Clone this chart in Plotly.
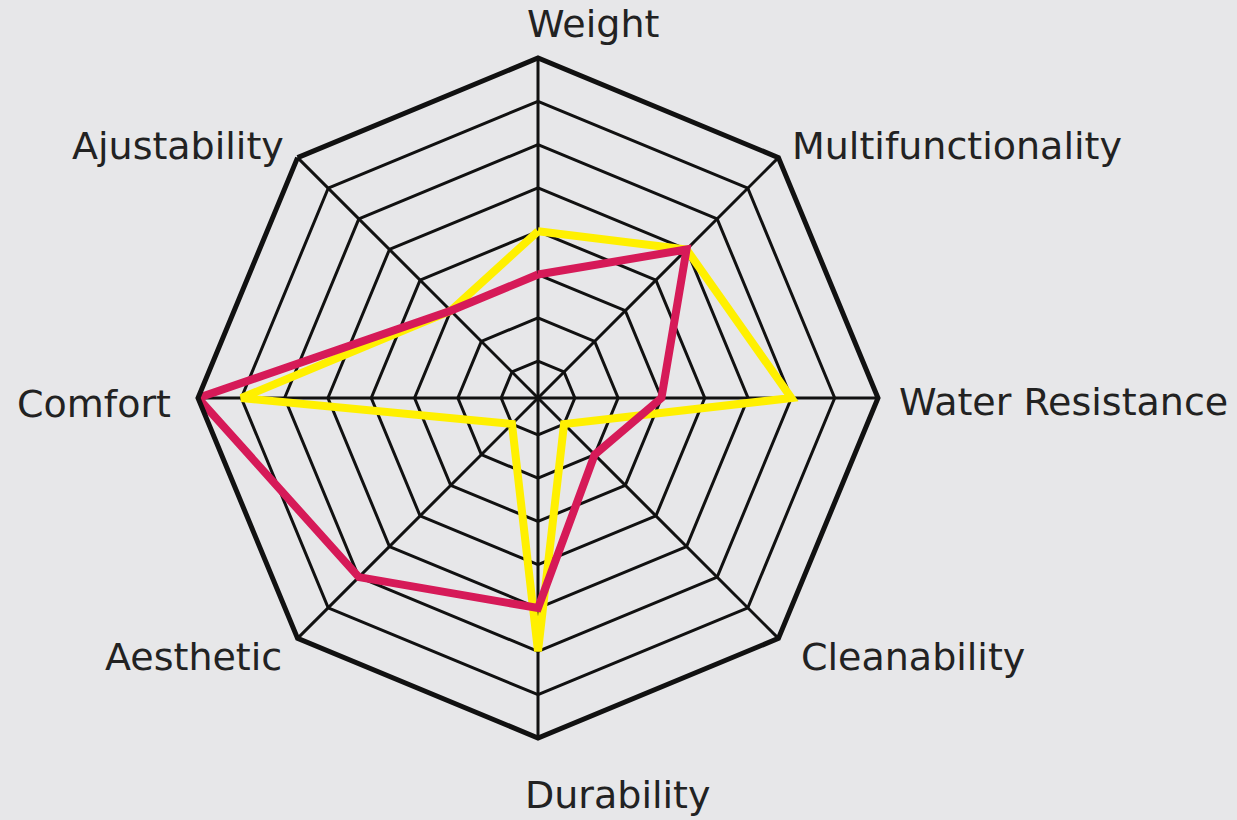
import plotly.graph_objects as go

categories = ["Weight", "Multifunctionality", "Water Resistance", "Cleanability",
              "Durability", "Aesthetic", "Comfort", "Ajustability"]
yellow_values = [4, 5, 6, 1, 6, 1, 7, 3]
red_values = [3, 5, 3, 2, 5, 6, 8, 3]

W, H = 1237, 820
cx, cy, R = 538, 398, 340
BG = "#E7E7E9"

fig = go.Figure()
fig.add_trace(go.Scatterpolar(
    r=yellow_values + yellow_values[:1], theta=categories + categories[:1],
    mode="lines", line=dict(color="#FFF000", width=8), showlegend=False))
fig.add_trace(go.Scatterpolar(
    r=red_values + red_values[:1], theta=categories + categories[:1],
    mode="lines", line=dict(color="#D61A58", width=8), showlegend=False))

# label placement (pixel positions of reference labels)
labels = [
    ("Weight", 593, 24, "center"),
    ("Multifunctionality", 790, 146, "left"),
    ("Water Resistance", 897, 402, "left"),
    ("Cleanability", 799, 657, "left"),
    ("Durability", 617, 795, "center"),
    ("Aesthetic", 284, 657, "right"),
    ("Comfort", 173, 404, "right"),
    ("Ajustability", 286, 146, "right"),
]
annotations = []
for text, px, py, anc in labels:
    annotations.append(dict(
        text=text, x=px / W, y=1 - py / H, xref="paper", yref="paper",
        xanchor=anc, yanchor="middle", showarrow=False,
        font=dict(family="DejaVu Sans", size=38, color="#222222")))

fig.update_layout(
    width=W, height=H,
    margin=dict(l=0, r=0, t=0, b=0),
    paper_bgcolor=BG, plot_bgcolor=BG,
    annotations=annotations,
    polar=dict(
        bgcolor=BG,
        domain=dict(x=[(cx - R) / W, (cx + R) / W],
                    y=[(H - cy - R) / H, (H - cy + R) / H]),
        gridshape="linear",
        radialaxis=dict(range=[0.15, 8], dtick=1, tick0=0, showticklabels=False,
                        ticks="", showline=False, gridcolor="#111111", gridwidth=2.5),
        angularaxis=dict(direction="clockwise", rotation=90, showticklabels=False,
                         ticks="", showline=True, linecolor="#111111", linewidth=5,
                         gridcolor="#111111", gridwidth=2.5),
    ),
)
fig.write_html("out.html",
               config={"displayModeBar": False},
               post_script="document.body.style.margin='0';"
                           "document.body.style.background='" + BG + "';")
